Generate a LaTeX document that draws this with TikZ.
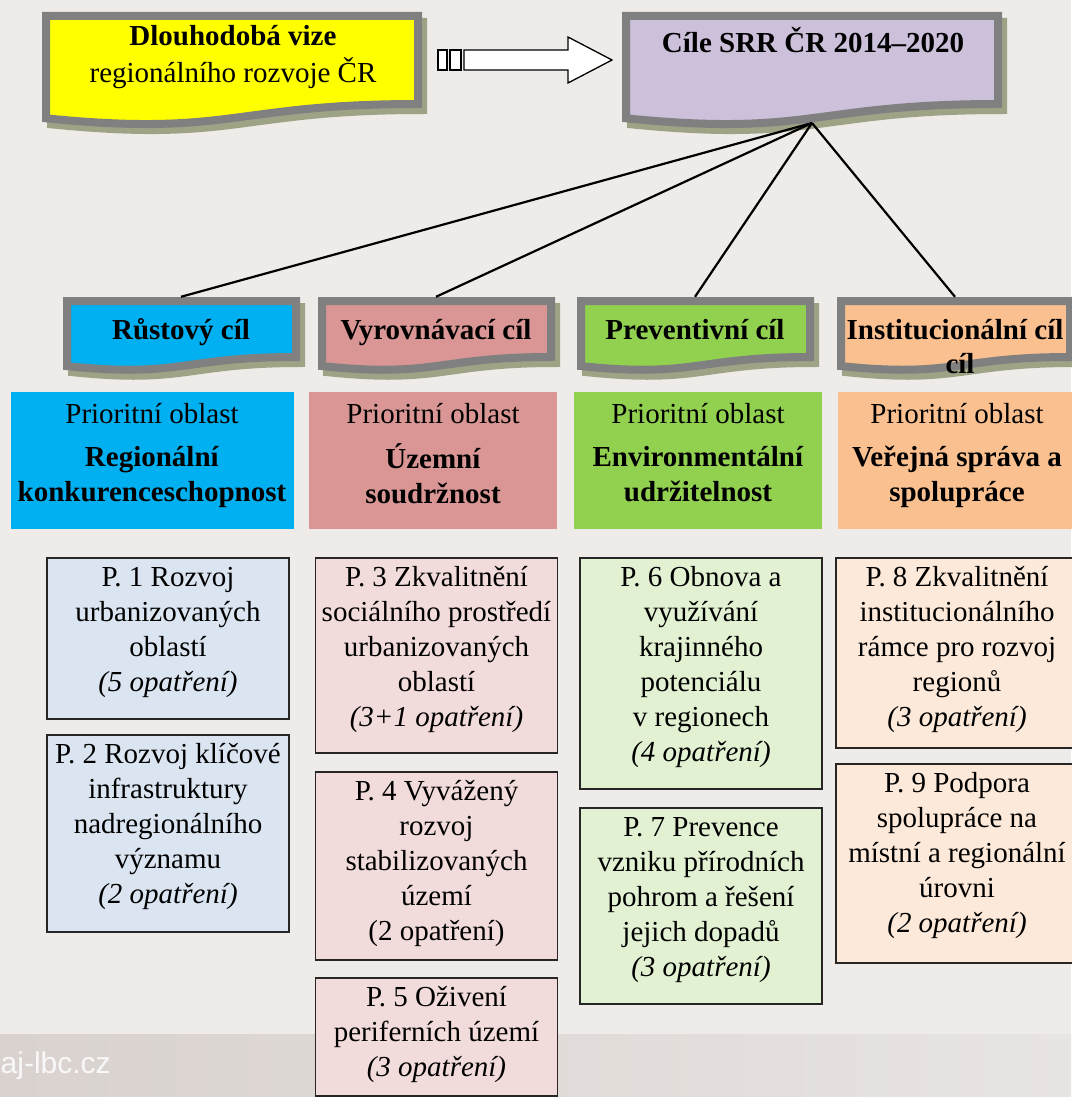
\documentclass[tikz,border=0pt]{standalone}
\usepackage{fontspec}
\setmainfont{Liberation Serif}
\setsansfont{Liberation Sans}
\usepackage{xcolor}
\usepackage{tikz}

\definecolor{bgcol}{HTML}{EEEBE8}
\definecolor{bandL}{HTML}{D9D2CF}
\definecolor{bandR}{HTML}{E8E4E1}
\definecolor{framegray}{HTML}{808080}
\definecolor{shadowcol}{HTML}{9EA386}
\definecolor{vizecol}{HTML}{FFFF00}
\definecolor{cilecol}{HTML}{CCC0DA}
\definecolor{rustcol}{HTML}{00B0F0}
\definecolor{vyrovcol}{HTML}{D99694}
\definecolor{prevcol}{HTML}{92D050}
\definecolor{instcol}{HTML}{FAC08F}
\definecolor{rustlt}{HTML}{DBE5F1}
\definecolor{vyrovlt}{HTML}{F2DCDB}
\definecolor{prevlt}{HTML}{E3F1D3}
\definecolor{instlt}{HTML}{FDE9D9}

% wavy "document" outline: x, y, width, height
\newcommand{\docshape}[4]{(#1,#2) -- (#1+#3,#2) -- (#1+#3,#2+0.80*#4)
  .. controls (#1+0.5*#3,#2+0.80*#4) and (#1+0.5*#3,#2+1.10*#4) .. (#1,#2+0.93*#4) -- cycle}

\begin{document}
\begin{tikzpicture}[x=1pt, y=-1pt,
  every node/.style={inner sep=0pt, font=\fontsize{29}{35}\selectfont},
  bannerframe/.style={line width=8pt, draw=framegray},
  dropsh/.style={fill=shadowcol, draw=shadowcol, line width=8pt, shift={(5,6)}},
  toptext/.style={align=center, anchor=north, font=\fontsize{29}{37}\selectfont},
  goal/.style={font=\bfseries\fontsize{29}{35}\selectfont, anchor=base, minimum width=236pt, text height=42pt, text depth=31pt},
  prio/.style={anchor=north, minimum height=137pt},
  pbox/.style={draw=black!85, line width=1.6pt, minimum width=242pt, anchor=north},
  ptext/.style={align=center, anchor=north},
  link/.style={line width=2.2pt, black},
  arrowbox/.style={draw=black, line width=1.3pt, fill=white}]

% Background
\useasboundingbox (0,0) rectangle (1071,1097);
\fill[bgcol] (0,0) rectangle (1071,1097);
\shade[left color=bandL, right color=bandR] (0,1034) rectangle (1071,1097);
\node[anchor=base west, font=\sffamily\fontsize{30}{36}\selectfont, text=white!85!bandL] (logo) at (0.5,1073) {aj-lbc.cz};

% Top boxes
\filldraw[dropsh] \docshape{46}{16}{372}{110};
\filldraw[bannerframe, fill=vizecol] \docshape{46}{16}{372}{110};
\node[toptext] (vize) at (233,19) {\strut\textbf{Dlouhodobá vize}\\regionálního rozvoje ČR};

\filldraw[dropsh] \docshape{626}{16}{372}{110};
\filldraw[bannerframe, fill=cilecol] \docshape{626}{16}{372}{110};
\node[font=\bfseries\fontsize{29}{35}\selectfont, anchor=base] (cile) at (813,52.7) {Cíle SRR ČR 2014–2020};
\coordinate (apex) at (812,123);

% Striped arrow
\draw[arrowbox] (438,50) rectangle (447,70);
\draw[arrowbox] (450,50) rectangle (461,70);
\draw[arrowbox] (464,50) -- (568,50) -- (568,37) -- (612,60) -- (568,83) -- (568,70) -- (464,70) -- cycle;

% Goals
\foreach \nm/\xl/\col/\txt in {rust/63/rustcol/Růstový cíl, vyrov/318/vyrovcol/Vyrovnávací cíl,
    prev/577/prevcol/Preventivní cíl, inst/837/instcol/Institucionální cíl}
{
    \filldraw[dropsh] \docshape{\xl+4}{301}{229}{70};
    \filldraw[bannerframe, fill=\col] \docshape{\xl+4}{301}{229}{70};
    \node[goal] (\nm) at (\xl+118,339) {\txt};
}
\node[font=\bfseries\fontsize{29}{35}\selectfont, anchor=base] (instcil) at (960,373) {cíl};

\foreach \nm in {rust,vyrov,prev,inst}
    \draw[link] (apex) -- (\nm.north);

% Priority areas
\foreach \nm/\cx/\w/\col/\head/\tail in {poA/152/283/rustcol/Regionální/konkurenceschopnost,
    poB/433/248/vyrovcol/Územní/soudržnost, poC/698/248/prevcol/Environmentální/udržitelnost,
    poD/957/238/instcol/{Veřejná správa a}/spolupráce}
{
    \node[prio, fill=\col, minimum width=\w] (\nm) at (\cx,392) {};
    \node[ptext] (\nm txt) at ([yshift=-6.5pt]\nm.north) {\strut Prioritní oblast\\[8.5pt]\textbf{\head}\\\textbf{\tail}};
}

% Priorities
\foreach \nm/\cx/\yt/\yb/\col/\txt in {
    p1/168/557/718/rustlt/{P. 1 Rozvoj\\urbanizovaných\\oblastí\\\textit{(5 opatření)}},
    p2/168/734/931/rustlt/{P. 2 Rozvoj klíčové\\infrastruktury\\nadregionálního\\významu\\\textit{(2 opatření)}},
    p3/436.5/557/752/vyrovlt/{P. 3 Zkvalitnění\\sociálního prostředí\\urbanizovaných\\oblastí\\\textit{(3+1 opatření)}},
    p4/436.5/771/959/vyrovlt/{P. 4 Vyvážený\\rozvoj\\stabilizovaných\\území\\(2 opatření)},
    p5/436.5/977/1095/vyrovlt/{P. 5 Oživení\\periferních území\\\textit{(3 opatření)}},
    p6/701/557/788/prevlt/{P. 6 Obnova a\\využívání\\krajinného\\potenciálu\\v regionech\\\textit{(4 opatření)}},
    p7/701/807/1003/prevlt/{P. 7 Prevence\\vzniku přírodních\\pohrom a řešení\\jejich dopadů\\\textit{(3 opatření)}},
    p8/957/557/747/instlt/{P. 8 Zkvalitnění\\institucionálního\\rámce pro rozvoj\\regionů\\\textit{(3 opatření)}},
    p9/957/763/962/instlt/{P. 9 Podpora\\spolupráce na\\místní a regionální\\úrovni\\\textit{(2 opatření)}}}
{
    \node[pbox, fill=\col, minimum height=\yb-\yt] (\nm) at (\cx,\yt) {};
    \node[ptext] (\nm txt) at ([yshift=-4.5pt]\nm.north) {\strut\txt};
}

\end{tikzpicture}
\end{document}
